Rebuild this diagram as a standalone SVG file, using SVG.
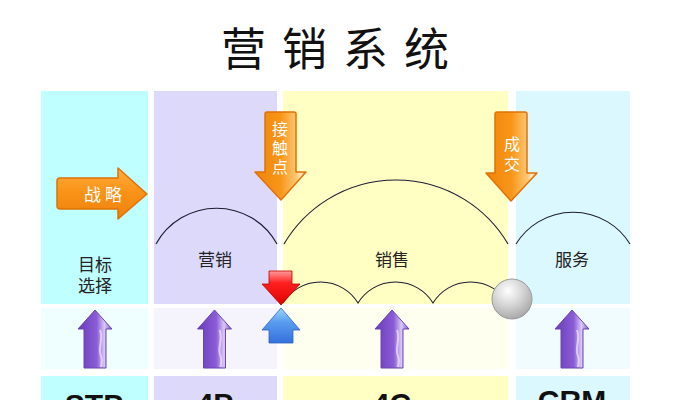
<svg xmlns="http://www.w3.org/2000/svg" width="674" height="400" viewBox="0 0 674 400">
<style>
.cjk{font-family:"Noto Sans CJK SC","Noto Sans",sans-serif;}
.lbl{font-size:17px;fill:#222;text-anchor:middle;}
.wt{font-size:17px;fill:#fff;text-anchor:middle;}
.vt{font-size:16px;fill:#fff;text-anchor:middle;}
.big{font-family:"Liberation Sans",Arial,sans-serif;font-weight:bold;font-size:30px;fill:#111;text-anchor:middle;}
.arc{fill:none;stroke:#1c1c30;stroke-width:1.1;}
.orange{stroke:#e07208;stroke-width:1.5;stroke-linejoin:round;}
.purple{fill:url(#gPur);stroke:#6b44b0;stroke-width:1;stroke-linejoin:round;}
</style>
<defs>
<linearGradient id="gOrH" x1="0" y1="0" x2="0" y2="1">
<stop offset="0" stop-color="#ffae40"/>
<stop offset="0.45" stop-color="#fa9418"/>
<stop offset="1" stop-color="#ee800c"/>
</linearGradient>
<linearGradient id="gOrV" x1="0" y1="0" x2="1" y2="0">
<stop offset="0" stop-color="#f08408"/>
<stop offset="0.5" stop-color="#f8961a"/>
<stop offset="0.82" stop-color="#ffc874"/>
<stop offset="0.9" stop-color="#ffecc8"/>
<stop offset="1" stop-color="#f59a28"/>
</linearGradient>
<linearGradient id="gRed" x1="0" y1="0" x2="0" y2="1">
<stop offset="0" stop-color="#ff9a9a"/>
<stop offset="0.35" stop-color="#ff2020"/>
<stop offset="1" stop-color="#e00000"/>
</linearGradient>
<linearGradient id="gBlue" x1="0" y1="0" x2="0" y2="1">
<stop offset="0" stop-color="#9ad8ff"/>
<stop offset="0.4" stop-color="#5a9cf0"/>
<stop offset="1" stop-color="#3570dc"/>
</linearGradient>
<linearGradient id="gPur" x1="0" y1="0" x2="1" y2="0">
<stop offset="0" stop-color="#6a3cb8"/>
<stop offset="0.55" stop-color="#8a5cd6"/>
<stop offset="0.78" stop-color="#d9c8f6"/>
<stop offset="1" stop-color="#7f52c8"/>
</linearGradient>
<radialGradient id="gBall" cx="0.4" cy="0.3" r="0.75">
<stop offset="0" stop-color="#ffffff"/>
<stop offset="0.5" stop-color="#d4d4d4"/>
<stop offset="1" stop-color="#a4a4a4"/>
</radialGradient>
<g id="purpleArrow">
<path class="purple" d="M0,0 L17,19 L11,19 L11,58 L-11,58 L-11,19 L-17,19 Z"/>
<path d="M5,20 C9,30 2,38 6,46 C8,51 6,55 6,57" fill="none" stroke="#efe6ff" stroke-width="2" opacity="0.7"/>
</g>
</defs>

<text class="cjk" x="221" y="66" font-size="45" letter-spacing="16" fill="#111">营销系统</text>

<g id="col-stp">
<rect x="41" y="91" width="107" height="213" fill="#c0ffff"/>
<rect x="41" y="308" width="107" height="61" fill="#effefe"/>
<rect x="41" y="376" width="107" height="30" fill="#c0ffff"/>
<text class="cjk lbl" x="95" y="271">目标</text>
<text class="cjk lbl" x="95" y="292">选择</text>
<use href="#purpleArrow" x="95" y="310"/>
<text class="big" x="94" y="415">STP</text>
</g>

<g id="col-4p">
<rect x="154" y="91" width="123" height="213" fill="#ddd9fb"/>
<rect x="154" y="308" width="123" height="61" fill="#f5f4fd"/>
<rect x="154" y="376" width="123" height="30" fill="#ddd9fb"/>
<text class="cjk lbl" x="215" y="266">营销</text>
<use href="#purpleArrow" x="214.5" y="310"/>
<text class="big" x="215" y="414">4P</text>
</g>

<g id="col-4c">
<rect x="283" y="91" width="225" height="213" fill="#ffffc4"/>
<rect x="283" y="308" width="225" height="61" fill="#fffff0"/>
<rect x="283" y="376" width="225" height="30" fill="#ffffc4"/>
<text class="cjk lbl" x="392" y="266">销售</text>
<use href="#purpleArrow" x="392" y="310"/>
<text class="big" x="392" y="414">4C</text>
</g>

<g id="col-crm">
<rect x="516" y="91" width="114" height="213" fill="#dcf8ff"/>
<rect x="516" y="308" width="114" height="61" fill="#f0fcff"/>
<rect x="516" y="376" width="114" height="30" fill="#dcf8ff"/>
<text class="cjk lbl" x="572" y="266">服务</text>
<use href="#purpleArrow" x="572" y="310"/>
<text class="big" x="572" y="411" font-size="32">CRM</text>
</g>

<g id="connectors">
<path class="arc" d="M156,244 A69 69 0 0 1 277,244"/>
<path class="arc" d="M284,244 A130 130 0 0 1 508,244"/>
<path class="arc" d="M516,244 A67 67 0 0 1 630,244"/>
<path class="arc" d="M283,303 A44 44 0 0 1 358,303 A44 44 0 0 1 433,303 A44 44 0 0 1 508,303"/>
</g>

<g id="arrow-strategy">
<path class="orange" fill="url(#gOrH)" d="M60,178 L118,178 L118,168 L147,194 L118,219 L118,209 L60,209 Q57,209 57,206 L57,181 Q57,178 60,178 Z"/>
<text class="cjk wt" x="103" y="201">战 略</text>
</g>

<g id="arrow-touch">
<path class="orange" fill="url(#gOrV)" d="M267,112 L294,112 Q296,112 296,114 L296,172 L306,172 L281,200 L255,172 L265,172 L265,114 Q265,112 267,112 Z"/>
<text class="cjk vt" x="280" y="135">接</text>
<text class="cjk vt" x="280" y="154">触</text>
<text class="cjk vt" x="280" y="173">点</text>
</g>

<g id="arrow-deal">
<path class="orange" fill="url(#gOrV)" d="M497,112 L525,112 Q527,112 527,114 L527,173 L537,173 L511,201 L486,173 L495,173 L495,114 Q495,112 497,112 Z"/>
<text class="cjk vt" x="512" y="150" font-size="17">成</text>
<text class="cjk vt" x="512" y="170" font-size="17">交</text>
</g>

<g id="arrow-red">
<path fill="url(#gRed)" stroke="#c00000" stroke-width="0.8" stroke-linejoin="round" d="M269,271 L292,271 L292,284 L300,284 L281,305 L262,284 L269,284 Z"/>
</g>

<g id="arrow-blue">
<path fill="url(#gBlue)" stroke="#2f62c0" stroke-width="0.8" stroke-linejoin="round" d="M281,308 L300,330 L293,330 L293,343 L269,343 L269,330 L262,330 Z"/>
</g>

<g id="ball">
<circle cx="512" cy="299" r="20" fill="url(#gBall)" stroke="#9a9a9a" stroke-width="1"/>
</g>
</svg>
